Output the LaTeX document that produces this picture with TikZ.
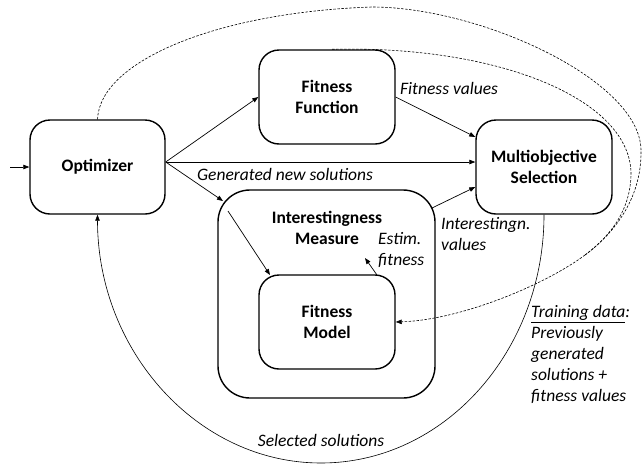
\documentclass[tikz,border=0pt]{standalone}
\usepackage{fontspec}
\setmainfont{Carlito}
\usetikzlibrary{arrows.meta}
\begin{document}
\begin{tikzpicture}[x=1pt,y=-1pt,
 box/.style={draw, line width=1.4pt, rounded corners=20pt, align=center, font=\bfseries\fontsize{17.5}{21}\selectfont, inner sep=0pt},
 lab/.style={font=\itshape\fontsize{17.5}{21}\selectfont, inner sep=0pt},
 conn/.style={line width=0.7pt, -{Triangle[length=6pt,width=4.5pt]}},
 dsh/.style={line width=0.6pt, dash pattern=on 2.5pt off 1.5pt},
]
\useasboundingbox (0,0) rectangle (644,466);
% boxes
\node[box, minimum width=135pt, minimum height=94pt] (opt) at (97.5,167) {Optimizer};
\node[box, minimum width=136pt, minimum height=94pt] (ff) at (327,97) {Fitness\\Function};
\node[box, minimum width=136pt, minimum height=94pt] (ms) at (544,167) {Multiobjective\\Selection};
\node[box, minimum width=217pt, minimum height=208pt, rounded corners=32pt] (im) at (326.5,294) {};
\node[box, minimum width=136pt, minimum height=94pt] (fm) at (327,322) {Fitness\\Model};
\node[font=\bfseries\fontsize{17.5}{21}\selectfont, align=center, inner sep=0pt] (imt) at (327,228) {Interestingness\\Measure};
% helper coordinates
\coordinate (in) at (10,167);
\coordinate (imc) at (223,201);
\coordinate (imin) at (228,211);
\coordinate (fmc) at (270,275);
\coordinate (imo) at (432,208);
\coordinate (fmo) at (377,275);
\coordinate (est) at (365,258);
\coordinate (M) at (585,255);
% connectors
\draw[conn] (in) -- (opt.west);
\draw[conn] ([yshift=5pt]opt.east) -- (ff.west);
\draw[conn] ([yshift=5pt]opt.east) -- ([yshift=5pt]ms.west);
\draw[conn] ([yshift=5pt]opt.east) -- (imc);
\draw[conn] (imin) -- (fmc);
\draw[conn] (ff.east) -- ([yshift=30pt]ms.west);
\draw[conn] (imo) -- ([yshift=-20pt]ms.west);
\draw[conn] (fmo) -- (est);
\draw[line width=0.6pt, -{Triangle[length=6pt,width=4.5pt]}] (ms.south) .. controls (544,351.5) and (444,463) .. (321,463) .. controls (198,463) and (97.5,351.5) .. (opt.south);
% dashed training-data curves
\draw[dsh] (opt.north) .. controls (100,60) and (220,12) .. (372,7) .. controls (480,7) and (640,80) .. (641,150) .. controls (642,200) and (612,235) .. (M);
\draw[dsh] ([xshift=5pt]ff.north) .. controls (500,45) and (632,100) .. (631,175) .. controls (630,215) and (605,240) .. (M);
\draw[dsh, -{Triangle[length=6pt,width=4.5pt]}] (M) .. controls (545,285) and (460,320) .. (fm.east);
% labels
\node[lab, anchor=west] (lfv) at (400,88) {Fitness values};
\node[lab] (lgn) at (285,174) {Generated new solutions};
\node[lab, anchor=west, align=left] (liv) at (441,234) {Interestingn.\\values};
\node[lab, anchor=west, align=left] (lef) at (378,250) {Estim.\\fitness};
\node[lab, anchor=west, align=left] (ltd) at (531,354.5) {\underline{Training data}:\\Previously\\generated\\solutions +\\fitness values};
\node[lab] (lss) at (321,440) {Selected solutions};
\end{tikzpicture}
\end{document}
